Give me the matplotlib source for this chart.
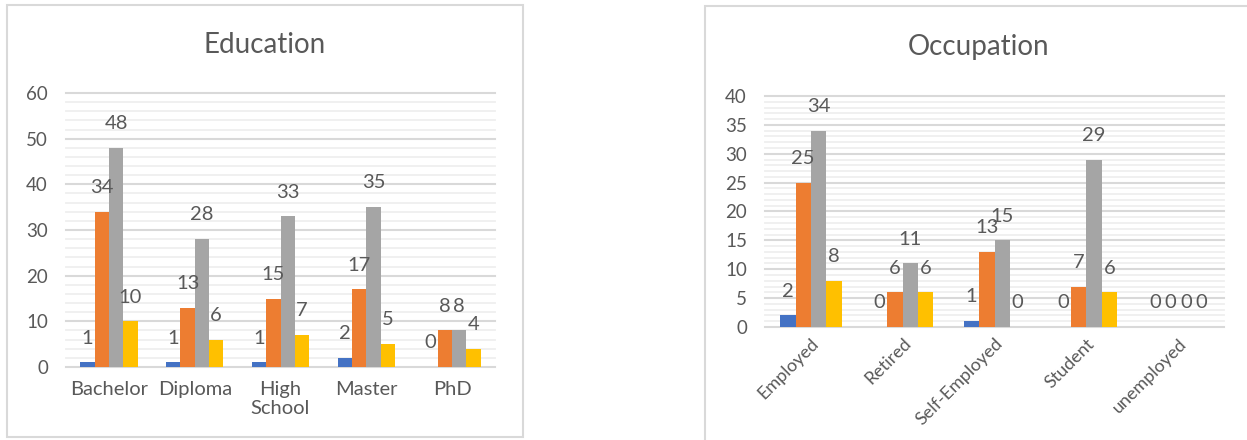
import matplotlib
matplotlib.use("Agg")
import matplotlib.pyplot as plt
from matplotlib.patches import Rectangle
from matplotlib.ticker import MultipleLocator
import numpy as np

plt.rcParams['font.family'] = ['Lato', 'DejaVu Sans']

# ---- data ----
edu_categories = ["Bachelor", "Diploma", "High\nSchool", "Master", "PhD"]
edu_s1 = [1, 1, 1, 2, 0]
edu_s2 = [34, 13, 15, 17, 8]
edu_s3 = [48, 28, 33, 35, 8]
edu_s4 = [10, 6, 7, 5, 4]

occ_categories = ["Employed", "Retired", "Self-Employed", "Student", "unemployed"]
occ_s1 = [2, 0, 1, 0, 0]
occ_s2 = [25, 6, 13, 7, 0]
occ_s3 = [34, 11, 15, 29, 0]
occ_s4 = [8, 6, 0, 6, 0]

colors = ["#4472C4", "#ED7D31", "#A5A5A5", "#FFC000"]
text_color = "#595959"
W, H = 1247, 440

fig = plt.figure(figsize=(W / 100, H / 100), dpi=100)


def px_rect(x0, y0, x1, y1):
    """Axes rect in figure fraction from pixel box (top-left origin)."""
    return [x0 / W, (H - y1) / H, (x1 - x0) / W, (y1 - y0) / H]


def frame(x0, y0, x1, y1):
    fig.patches.append(Rectangle((x0 / W, (H - y1) / H), (x1 - x0) / W, (y1 - y0) / H,
                                 transform=fig.transFigure, fill=False,
                                 edgecolor="#D9D9D9", linewidth=1.5))


def bar_chart(ax, cats, series, ymax, major, minor, lab_size, tick_size, cat_size, rotate=False):
    n = len(series)
    x = np.arange(len(cats))
    bw = 1 / 6
    for i, vals in enumerate(series):
        pos = x + (i - (n - 1) / 2) * bw
        bars = ax.bar(pos, vals, width=bw, color=colors[i], zorder=3)
        for b, v in zip(bars, vals):
            ax.annotate(f"{v}", (b.get_x() + b.get_width() / 2, v),
                        xytext=(0, 13.5), textcoords="offset points",
                        ha="center", va="baseline", fontsize=lab_size,
                        color=text_color, zorder=4)
    ax.set_xlim(-0.5, len(cats) - 0.5)
    ax.set_ylim(0, ymax)
    ax.yaxis.set_major_locator(MultipleLocator(major))
    ax.yaxis.set_minor_locator(MultipleLocator(minor))
    ax.grid(axis="y", which="major", color="#D9D9D9", linewidth=1.5, zorder=1)
    ax.grid(axis="y", which="minor", color="#EFEFEF", linewidth=1.3, zorder=0)
    ax.set_axisbelow(True)
    for t in ax.yaxis.get_major_ticks() + ax.yaxis.get_minor_ticks():
        t.gridline.set_clip_on(False)
    for s in ax.spines.values():
        s.set_visible(False)
    ax.tick_params(axis="y", which="both", length=0, pad=13,
                   labelsize=tick_size, labelcolor=text_color)
    ax.tick_params(axis="x", length=0, labelsize=cat_size, labelcolor=text_color,
                   pad=10 if not rotate else 6)
    ax.set_xticks(x)
    if rotate:
        ax.set_xticklabels(cats, rotation=45, ha="right", va="top",
                           rotation_mode="anchor")
    else:
        ax.set_xticklabels(cats, linespacing=1.15)


# frames around each chart
frame(7, 5, 523, 437)
frame(705, 6, 1260, 450)

ax1 = fig.add_axes(px_rect(66, 93, 495, 367))
bar_chart(ax1, edu_categories, [edu_s1, edu_s2, edu_s3, edu_s4], 60, 10, 2,
          lab_size=14.5, tick_size=13.5, cat_size=14.5)
fig.text(265 / W, (H - 53) / H, "Education", ha="center", va="baseline",
         fontsize=20, color=text_color)

ax2 = fig.add_axes(px_rect(765, 96, 1224, 327))
bar_chart(ax2, occ_categories, [occ_s1, occ_s2, occ_s3, occ_s4], 40, 5, 1,
          lab_size=14.5, tick_size=13.5, cat_size=13, rotate=True)
fig.text(979 / W, (H - 55) / H, "Occupation", ha="center", va="baseline",
         fontsize=20, color=text_color)

fig.savefig("out.png", dpi=100)
